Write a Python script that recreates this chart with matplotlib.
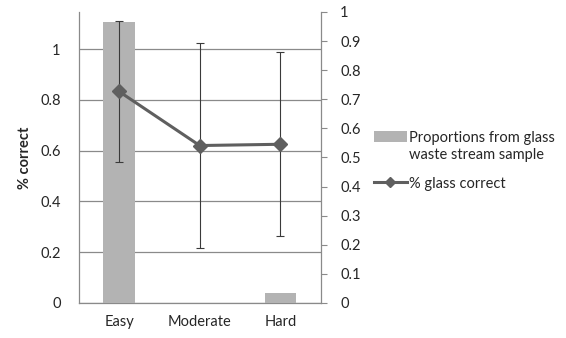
import matplotlib
matplotlib.use("Agg")
import matplotlib.pyplot as plt

# Difficulty categories and the two series shown per category
categories = ["Easy", "Moderate", "Hard"]
pct_correct = [0.833, 0.620, 0.625]          # left axis
pct_error = [0.278, 0.405, 0.363]            # +/- error bar half-lengths
proportions = [0.967, 0.0, 0.033]            # right axis

left_ticks = [0, 0.2, 0.4, 0.6, 0.8, 1]
left_labels = ["0", "0.2", "0.4", "0.6", "0.8", "1"]
right_ticks = [0, 0.1, 0.2, 0.3, 0.4, 0.5, 0.6, 0.7, 0.8, 0.9, 1]
right_labels = ["0", "0.1", "0.2", "0.3", "0.4", "0.5", "0.6", "0.7", "0.8", "0.9", "1"]

plt.rcParams['font.family'] = ['Lato', 'DejaVu Sans']
FS = 10.5
GRID = "#8a8a8a"
TEXT = "#262626"

fig = plt.figure(figsize=(5.66, 3.38), dpi=100)
ax = fig.add_axes([0.139, 0.1036, 0.4276, 0.861])
x = list(range(len(categories)))

# base layer: left scale with horizontal gridlines
ax.set_xlim(-0.5, len(categories) - 0.5)
ax.set_ylim(0, 1.146)
ax.set_yticks(left_ticks)
ax.set_yticklabels(left_labels, fontsize=FS, color=TEXT)
ax.set_xticks(x)
ax.set_xticklabels(categories, fontsize=FS, color=TEXT)
ax.tick_params(axis="y", length=0, pad=13)
ax.tick_params(axis="x", length=0, pad=9)
ax.yaxis.grid(True, color=GRID, linewidth=0.9)
ax.set_axisbelow(True)
for side in ("top", "right"):
    ax.spines[side].set_visible(False)
for side in ("left", "bottom"):
    ax.spines[side].set_color(GRID)
    ax.spines[side].set_linewidth(0.9)
ax.set_ylabel("% correct", fontsize=FS, fontweight="bold", color=TEXT, labelpad=6)

# middle layer: bars on the right scale
ax2 = ax.twinx()
bars = ax2.bar(x, proportions, width=0.39, color="#b3b3b3",
               label="Proportions from glass\nwaste stream sample")
ax2.set_ylim(0, 1)
ax2.set_yticks(right_ticks)
ax2.set_yticklabels(right_labels, fontsize=FS, color=TEXT)
ax2.tick_params(axis="y", length=4, color=GRID, pad=10)
for side in ("top", "left", "bottom"):
    ax2.spines[side].set_visible(False)
ax2.spines["right"].set_color(GRID)
ax2.spines["right"].set_linewidth(0.9)
ax2.patch.set_visible(False)

# top layer: line with error bars on the left scale
ax3 = ax.twinx()
ax3.set_ylim(ax.get_ylim())
ax3.set_xlim(ax.get_xlim())
ax3.axis("off")
ax3.errorbar(x, pct_correct, yerr=pct_error, fmt="none", ecolor="#3a3a3a",
             elinewidth=0.8, capsize=2.6, capthick=0.8)
line, = ax3.plot(x, pct_correct, color="#5f5f5f", linewidth=2.2, marker="D",
                 markersize=7, label="% glass correct")

leg = fig.legend([bars, line], [bars.get_label(), line.get_label()],
                 loc="upper left", bbox_to_anchor=(0.637, 0.65), frameon=False,
                 fontsize=FS, handlelength=2.3, handletextpad=0.15,
                 labelspacing=1.05, labelcolor=TEXT)
# keep each legend key level with the first line of its label
for column in leg._legend_handle_box.get_children():
    for row in column.get_children():
        row.align = "top"
leg.legend_handles[1].set_markersize(5)

fig.savefig("out.png", dpi=100)
